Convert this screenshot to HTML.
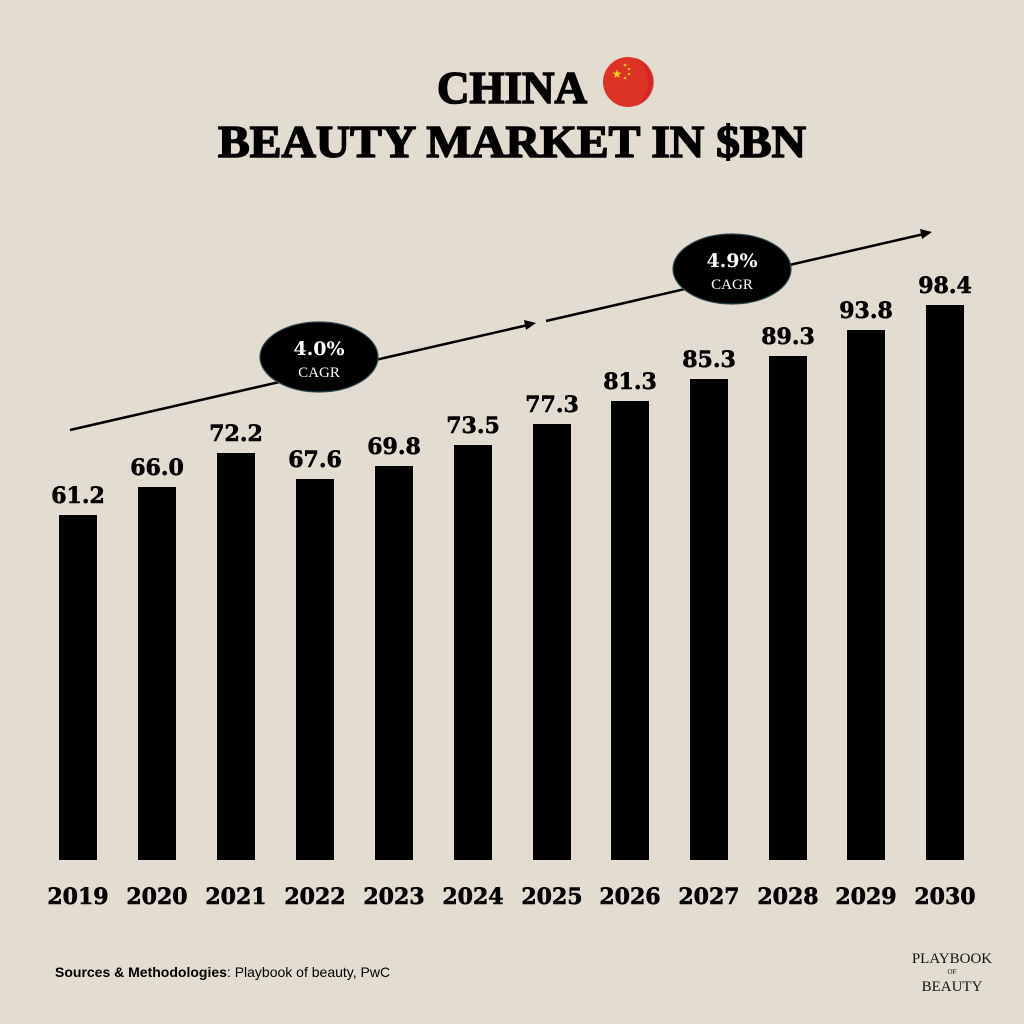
<!DOCTYPE html>
<html><head><style>
body{margin:0;background:#e3ddd1;}
svg{display:block}
</style></head><body>
<svg width="1024" height="1024" viewBox="0 0 1024 1024" xmlns="http://www.w3.org/2000/svg">
<rect width="1024" height="1024" fill="#e3ddd1"/>
<g font-family="'Liberation Serif',serif" font-weight="bold" fill="#000" stroke="#000" stroke-width="1.6" text-anchor="middle">
<text x="512" y="103" font-size="46" textLength="150" lengthAdjust="spacingAndGlyphs">CHINA</text>
<text x="512" y="157" font-size="46" textLength="588" lengthAdjust="spacingAndGlyphs">BEAUTY MARKET IN $BN</text>
</g>
<circle cx="628" cy="82" r="25" fill="#dd3226"/>
<path d="M636 58 A25 25 0 0 1 636 106 A30 30 0 0 0 636 58Z" fill="#c92222" opacity="0.6"/>
<text x="617" y="78" font-size="12" fill="#f7d11a" text-anchor="middle" font-family="DejaVu Sans,sans-serif">★</text>
<circle cx="625" cy="65" r="1.3" fill="#f7d11a"/><circle cx="629" cy="69" r="1.3" fill="#f7d11a"/>
<circle cx="629" cy="74" r="1.3" fill="#f7d11a"/><circle cx="625" cy="78" r="1.3" fill="#f7d11a"/>

<g stroke="#000" stroke-width="2.5">
<line x1="70" y1="430" x2="528" y2="325"/>
<line x1="546" y1="321" x2="924" y2="234"/>
</g>
<polygon points="536,323 524,320 526,330" fill="#000"/>
<polygon points="932,232 920,229 922,239" fill="#000"/>
<g stroke="#2c4650" stroke-width="1.2" fill="#000">
<ellipse cx="319" cy="357" rx="59" ry="35"/>
<ellipse cx="732" cy="269" rx="59" ry="35"/>
</g>
<g fill="#fff" text-anchor="middle" font-family="'DejaVu Serif','Liberation Serif',serif">
<text x="319" y="355" font-size="19" font-weight="bold">4.0%</text>
<text x="319" y="377" font-family="'Liberation Serif',serif" font-size="15">CAGR</text>
<text x="732" y="267" font-size="19" font-weight="bold">4.9%</text>
<text x="732" y="289" font-family="'Liberation Serif',serif" font-size="15">CAGR</text>
</g>

<g fill="#000" font-family="'DejaVu Serif','Liberation Serif',serif" font-weight="bold" text-anchor="middle">
<rect x="59" y="515" width="38" height="345"/>
<rect x="138" y="487" width="38" height="373"/>
<rect x="217" y="453" width="38" height="407"/>
<rect x="296" y="479" width="38" height="381"/>
<rect x="375" y="466" width="38" height="394"/>
<rect x="454" y="445" width="38" height="415"/>
<rect x="533" y="424" width="38" height="436"/>
<rect x="611" y="401" width="38" height="459"/>
<rect x="690" y="379" width="38" height="481"/>
<rect x="769" y="356" width="38" height="504"/>
<rect x="847" y="330" width="38" height="530"/>
<rect x="926" y="305" width="38" height="555"/>
<g stroke="#000" stroke-width="0.6" font-size="22">
<text x="78" y="503">61.2</text><text x="78" y="904">2019</text>
<text x="157" y="475">66.0</text><text x="157" y="904">2020</text>
<text x="236" y="441">72.2</text><text x="236" y="904">2021</text>
<text x="315" y="467">67.6</text><text x="315" y="904">2022</text>
<text x="394" y="454">69.8</text><text x="394" y="904">2023</text>
<text x="473" y="433">73.5</text><text x="473" y="904">2024</text>
<text x="552" y="412">77.3</text><text x="552" y="904">2025</text>
<text x="630" y="389">81.3</text><text x="630" y="904">2026</text>
<text x="709" y="367">85.3</text><text x="709" y="904">2027</text>
<text x="788" y="344">89.3</text><text x="788" y="904">2028</text>
<text x="866" y="318">93.8</text><text x="866" y="904">2029</text>
<text x="945" y="293">98.4</text><text x="945" y="904">2030</text>
</g>
</g>

<text x="55" y="977" font-family="'Liberation Sans',sans-serif" font-size="14" fill="#000"><tspan font-weight="bold">Sources &amp; Methodologies</tspan>: Playbook of beauty, PwC</text>
<g font-family="'Liberation Serif',serif" fill="#111" text-anchor="middle">
<text x="952" y="963" font-size="15">PLAYBOOK</text>
<text x="952" y="974" font-size="7">OF</text>
<text x="952" y="991" font-size="15">BEAUTY</text>
</g>
</svg>
</body></html>
